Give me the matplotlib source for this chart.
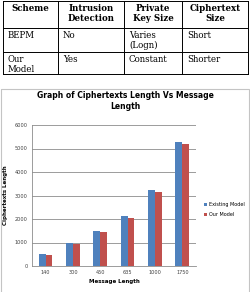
import numpy as np
import matplotlib.pyplot as plt
from matplotlib.patches import Rectangle

# table data
headers = ["Scheme", "Intrusion\nDetection", "Private\nKey Size", "Ciphertext\nSize"]
rows = [
    ["BEPM", "No", "Varies\n(Logn)", "Short"],
    ["Our\nModel", "Yes", "Constant", "Shorter"],
]

# chart data
message_lengths = ["140", "300", "450", "635", "1000", "1750"]
existing_model = [530, 960, 1510, 2120, 3230, 5290]
our_model = [460, 930, 1460, 2030, 3150, 5200]

W, H = 251, 292
fig = plt.figure(figsize=(W / 100, H / 100), dpi=100)

# overlay axes in pixel coordinates for table and frame
ov = fig.add_axes([0, 0, 1, 1])
ov.set_xlim(0, W)
ov.set_ylim(H, 0)
ov.axis("off")

col_x = [3, 58, 124, 182, 248]
row_y = [1, 28, 52, 74]
for x in col_x:
    ov.plot([x, x], [row_y[0], row_y[-1]], color="black", lw=0.7)
for y in row_y:
    ov.plot([col_x[0], col_x[-1]], [y, y], color="black", lw=0.7)

serif = "DejaVu Serif"
for i, h in enumerate(headers):
    cx = (col_x[i] + col_x[i + 1]) / 2
    ov.text(cx, row_y[0] + 3, h, ha="center", va="top", fontsize=6.2,
            fontweight="bold", family=serif, linespacing=1.15)
for r, row in enumerate(rows):
    for i, cell in enumerate(row):
        ov.text(col_x[i] + 5, row_y[r + 1] + 2.5, cell, ha="left", va="top",
                fontsize=6.2, family=serif, linespacing=1.15)

# chart frame
ov.add_patch(Rectangle((1, 89), 248, 205, fill=False, ec="#c4c4c4", lw=0.8))

ov.text(125, 101, "Graph of Ciphertexts Length Vs Message\nLength", ha="center",
        va="center", fontsize=5.5, fontweight="bold", family="DejaVu Sans",
        linespacing=1.35)

# bar chart
ax = fig.add_axes([32 / W, 1 - 266 / H, 164 / W, 141 / H])
x = np.arange(len(message_lengths))
bw = 0.25
ax.bar(x - bw / 2, existing_model, bw, color="#4f81bd", label="Existing Model")
ax.bar(x + bw / 2, our_model, bw, color="#c0504d", label="Our Model")
ax.set_xlim(-0.5, len(message_lengths) - 0.5)
ax.set_ylim(0, 6000)
ax.set_yticks(range(0, 6001, 1000))
ax.set_xticks(x)
ax.set_xticklabels(message_lengths)
ax.yaxis.grid(True, color="#8c8c8c", lw=0.6)
ax.set_axisbelow(True)
for s in ["top", "right"]:
    ax.spines[s].set_visible(False)
ax.spines["left"].set_color("#8c8c8c")
ax.spines["bottom"].set_color("#8c8c8c")
ax.spines["left"].set_linewidth(0.6)
ax.spines["bottom"].set_linewidth(0.6)
ax.tick_params(labelsize=3.6, length=0, pad=3, colors="#404040")
ax.set_xlabel("Message Length", fontsize=4, fontweight="bold", labelpad=3)
ax.set_ylabel("Ciphertexts Length", fontsize=4, fontweight="bold", labelpad=5)
ax.legend(loc="center left", bbox_to_anchor=(1.02, 0.4), frameon=False,
          fontsize=3.5, handlelength=0.6, handleheight=0.6, handletextpad=0.4,
          labelspacing=1.1)

fig.savefig("out.png", dpi=100)
